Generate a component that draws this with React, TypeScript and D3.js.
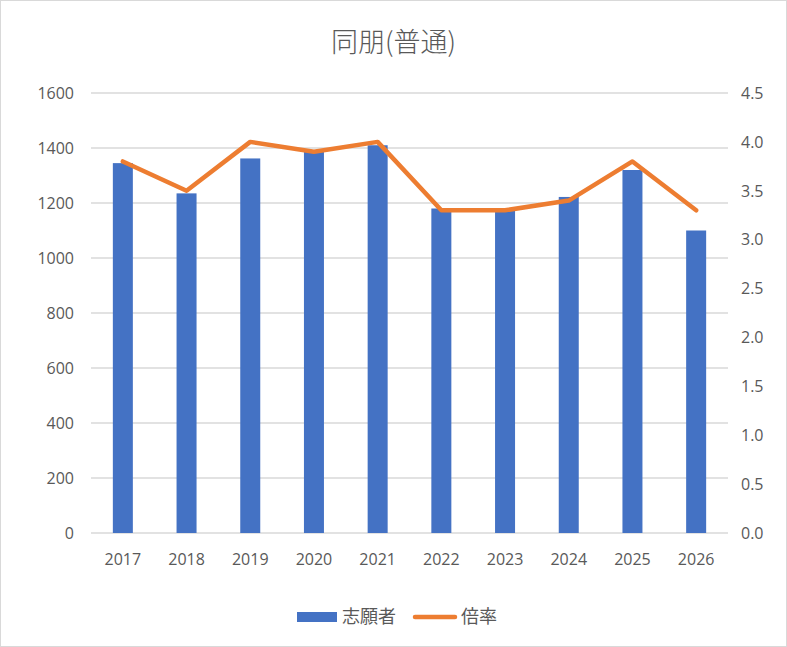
import React from "react";
import * as d3 from "d3";

const years = ["2017", "2018", "2019", "2020", "2021", "2022", "2023", "2024", "2025", "2026"];
const applicants = [1345, 1235, 1362, 1392, 1410, 1180, 1175, 1222, 1320, 1100];
const ratio = [3.8, 3.5, 4.0, 3.9, 4.0, 3.3, 3.3, 3.4, 3.8, 3.3];
const leftTicks = [0, 200, 400, 600, 800, 1000, 1200, 1400, 1600];
const rightTicks = [0, 0.5, 1, 1.5, 2, 2.5, 3, 3.5, 4, 4.5];

const W = 787, H = 647;
const L = 91, R = 728, T = 93, B = 533;
const FONT = "'Open Sans', 'Noto Sans CJK JP', sans-serif";
const CJK = "'Noto Sans CJK JP', sans-serif";
const TXT = "#595959";

export default function App() {
  const x = d3.scaleBand<string>().domain(years).range([L, R]).paddingInner(0.686).paddingOuter(0.343);
  const yL = d3.scaleLinear().domain([0, 1600]).range([B, T]);
  const yR = d3.scaleLinear().domain([0, 4.5]).range([B, T]);
  const line = d3.line<number>()
    .x((_, i) => (x(years[i]) as number) + x.bandwidth() / 2)
    .y((d) => yR(d));
  return (
    <svg width={W} height={H} style={{ position: "absolute", left: 0, top: 0, background: "#fff" }} fontFamily={FONT}>
      <rect x={0.5} y={0.5} width={W - 1} height={H - 1} fill="#fff" stroke="#d9d9d9" />
      <text x={W / 2} y={42} dy="0.38em" textAnchor="middle" fontSize={27} fill={TXT} fontFamily={CJK} fontWeight={300}>同朋(普通)</text>
      {leftTicks.map((t) => (
        <g key={t}>
          <line x1={L} x2={R} y1={yL(t)} y2={yL(t)} stroke="#d9d9d9" strokeWidth={1.3} />
          <text x={74} y={yL(t)} dy="0.36em" textAnchor="end" fontSize={16} fill={TXT}>{t}</text>
        </g>
      ))}
      {rightTicks.map((t) => (
        <text key={t} x={741} y={yR(t)} dy="0.36em" textAnchor="start" fontSize={16} fill={TXT}>{t.toFixed(1)}</text>
      ))}
      {years.map((yv, i) => (
        <g key={yv}>
          <rect x={x(yv)} y={yL(applicants[i])} width={x.bandwidth()} height={B - yL(applicants[i])} fill="#4472c4" />
          <text x={(x(yv) as number) + x.bandwidth() / 2} y={559} dy="0.36em" textAnchor="middle" fontSize={16} fill={TXT}>{yv}</text>
        </g>
      ))}
      <path d={line(ratio) || ""} fill="none" stroke="#ed7d31" strokeWidth={4.5} strokeLinejoin="round" strokeLinecap="round" />
      <rect x={297} y={612} width={40} height={10} fill="#4472c4" />
      <text x={342} y={617} dy="0.36em" fontSize={18} fill={TXT} fontFamily={CJK}>志願者</text>
      <line x1={415} x2={455} y1={617} y2={617} stroke="#ed7d31" strokeWidth={4.5} strokeLinecap="round" />
      <text x={461} y={617} dy="0.36em" fontSize={18} fill={TXT} fontFamily={CJK}>倍率</text>
    </svg>
  );
}
